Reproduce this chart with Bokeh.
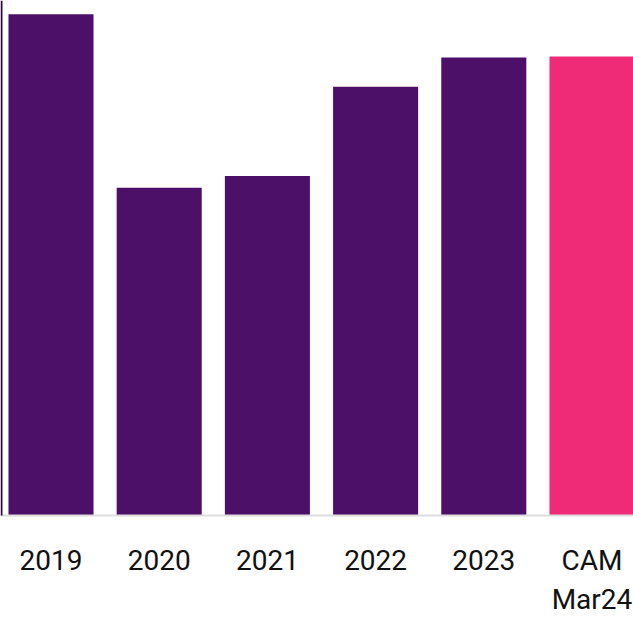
from bokeh.plotting import figure
from bokeh.models import Range1d, FixedTicker, BoxAnnotation
from bokeh.embed import file_html
from bokeh.resources import INLINE

categories = ["2019", "2020", "2021", "2022", "2023", "CAM\nMar24"]
values = [51.1, 33.4, 34.6, 43.7, 46.7, 46.8]
colors = ["#4c1069", "#4c1069", "#4c1069", "#4c1069", "#4c1069", "#ef2b78"]

xs = list(range(len(categories)))

p = figure(width=633, height=619, output_backend="svg", toolbar_location=None,
           x_range=Range1d(-0.4667, 5.3835), y_range=Range1d(0, 52.5),
           min_border_left=0, min_border_right=0, min_border_top=0,
           min_border_bottom=94, y_axis_location=None)

p.vbar(x=xs, top=values, width=0.786, color=colors, line_color=None)

p.xgrid.visible = False
p.ygrid.visible = False
p.outline_line_color = None
p.background_fill_color = "white"
p.border_fill_color = "white"

ax = p.xaxis[0]
ax.ticker = FixedTicker(ticks=xs)
ax.major_label_overrides = {i: c for i, c in enumerate(categories)}
ax.major_tick_out = 0
ax.major_tick_in = 0
ax.minor_tick_out = 0
ax.minor_tick_in = 0
ax.axis_line_color = "#dddddd"
ax.axis_line_width = 2
ax.major_label_standoff = 28
ax.major_label_text_font = "Roboto"
ax.major_label_text_font_size = "28px"
ax.major_label_text_color = "#111111"

left_rule = BoxAnnotation(left=0, right=2, top=0, bottom=612,
                          left_units="canvas", right_units="canvas",
                          top_units="canvas", bottom_units="canvas",
                          fill_color="#2d0b3e", fill_alpha=1.0, line_color=None)
p.add_layout(left_rule)

open("out.html", "w").write(file_html(p, INLINE))
